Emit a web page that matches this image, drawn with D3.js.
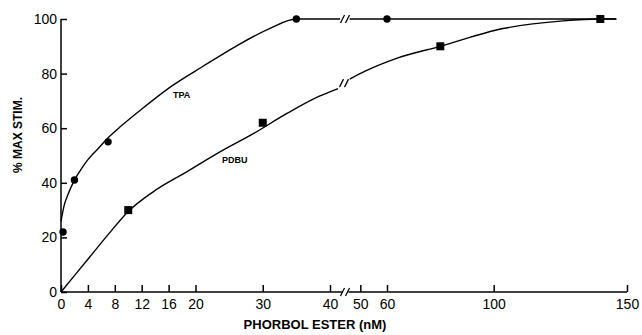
<!DOCTYPE html>
<html>
<head>
<meta charset="utf-8">
<script src="https://cdn.jsdelivr.net/npm/d3@7"></script>
<style>
  body { margin: 0; background: #fff; }
  svg { font-family: "Liberation Sans", Arial, sans-serif; }
  svg text { fill: #000; }
  .axis text { font-size: 14px; }
  .axis line, .axis path { stroke: #000; stroke-width: 1.5; }
</style>
</head>
<body>
<svg class="chart" width="642" height="335"></svg>
<script>
// measured points
var tpaX = [0.3, 2, 7, 35, 60];
var tpaY = [22, 41, 55, 100, 100];
var pdbuX = [10, 30, 80, 140];
var pdbuY = [30, 62, 90, 100];

// fitted curves (left part 0-42 nM, right part after the break)
var tpaCurveLeftX = [0, 0.5, 1, 2, 3, 4, 5.5, 7, 8.8, 12, 16.5, 21, 26, 31, 35, 41.5];
var tpaCurveLeftY = [26, 32, 35.5, 41, 45, 48.5, 52.5, 56.5, 60.5, 67, 75.5, 82.5, 90, 96.5, 100, 100];
var tpaCurveRightX = [46, 146];
var tpaCurveRightY = [100, 100];
var pdbuCurveLeftX = [0, 4.3, 7, 10, 13.7, 18.7, 23.7, 28.6, 33.6, 38.5, 41.2];
var pdbuCurveLeftY = [0, 12.9, 21, 29.5, 36.7, 44, 51.4, 58, 65.4, 71.8, 74.5];
var pdbuCurveRightX = [46, 52, 63.6, 80, 103.5, 126, 140, 146];
var pdbuCurveRightY = [78, 81, 85.6, 90, 96.5, 99.3, 100, 100];

var xTicksLeft = [0, 4, 8, 12, 16, 20, 30, 40];
var xTicksRight = [50, 60, 100, 150];
var yTicks = [0, 20, 40, 60, 80, 100];

var svg = d3.select("svg.chart");

var y = d3.scaleLinear().domain([0, 100]).range([292, 19]);
var x1 = d3.scaleLinear().domain([0, 40]).range([61, 330]);
var x2 = d3.scaleLinear().domain([60, 150]).range([387, 627]);
function xs(v) { return v < 44 ? x1(v) : x2(v); }

var zip = function(xa, ya) { return xa.map(function(d, i) { return [d, ya[i]]; }); };

// y axis
var yAxis = svg.append("g")
    .attr("class", "axis")
    .attr("transform", "translate(61,0)")
    .call(d3.axisLeft(y).tickValues(yTicks).tickSizeInner(-6).tickSizeOuter(0).tickPadding(4));
yAxis.select(".domain").remove();
svg.append("line")
    .attr("x1", 61).attr("x2", 61)
    .attr("y1", y(0)).attr("y2", y(100))
    .attr("stroke", "#000").attr("stroke-width", 1.5);

// x axis, two pieces
var xa1 = svg.append("g")
    .attr("class", "axis")
    .attr("transform", "translate(0," + y(0) + ")")
    .call(d3.axisBottom(x1).tickValues(xTicksLeft).tickSizeInner(-7).tickSizeOuter(0).tickPadding(7));
xa1.select(".domain").remove();
var xa2 = svg.append("g")
    .attr("class", "axis")
    .attr("transform", "translate(0," + y(0) + ")")
    .call(d3.axisBottom(x2).tickValues(xTicksRight).tickSizeInner(-7).tickSizeOuter(0).tickPadding(7));
xa2.select(".domain").remove();

svg.append("line")
    .attr("x1", x1(0)).attr("x2", x1(41.8))
    .attr("y1", y(0)).attr("y2", y(0))
    .attr("stroke", "#000").attr("stroke-width", 1.5);
svg.append("line")
    .attr("x1", x2(45.5)).attr("x2", x2(150))
    .attr("y1", y(0)).attr("y2", y(0))
    .attr("stroke", "#000").attr("stroke-width", 1.5);

function slashes(cx, cy) {
  [-2.5, 2.5].forEach(function(dx) {
    svg.append("line")
        .attr("x1", cx + dx - 2).attr("y1", cy + 4)
        .attr("x2", cx + dx + 2).attr("y2", cy - 4)
        .attr("stroke", "#000").attr("stroke-width", 1.3);
  });
}
slashes(345, y(0));
slashes(345, y(100));
slashes(344, y(76.5));

// curves
var line = d3.line()
    .x(function(d) { return xs(d[0]); })
    .y(function(d) { return y(d[1]); })
    .curve(d3.curveMonotoneX);

[zip(tpaCurveLeftX, tpaCurveLeftY), zip(tpaCurveRightX, tpaCurveRightY),
 zip(pdbuCurveLeftX, pdbuCurveLeftY), zip(pdbuCurveRightX, pdbuCurveRightY)].forEach(function(c) {
  svg.append("path")
      .datum(c)
      .attr("fill", "none")
      .attr("stroke", "#000")
      .attr("stroke-width", 1.4)
      .attr("d", line);
});

// markers
svg.append("g").selectAll("circle")
    .data(zip(tpaX, tpaY))
    .enter().append("circle")
      .attr("cx", function(d) { return xs(d[0]); })
      .attr("cy", function(d) { return y(d[1]); })
      .attr("r", 3.7)
      .attr("fill", "#000");

svg.append("g").selectAll("rect")
    .data(zip(pdbuX, pdbuY))
    .enter().append("rect")
      .attr("x", function(d) { return xs(d[0]) - 4; })
      .attr("y", function(d) { return y(d[1]) - 4; })
      .attr("width", 8)
      .attr("height", 8)
      .attr("fill", "#000");

// curve labels
svg.append("text")
    .attr("x", 173).attr("y", 98)
    .attr("font-size", 9).attr("font-weight", "bold")
    .text("TPA");
svg.append("text")
    .attr("x", 222).attr("y", 163)
    .attr("font-size", 9).attr("font-weight", "bold")
    .text("PDBU");

// axis titles
svg.append("text")
    .attr("x", 315).attr("y", 329)
    .attr("text-anchor", "middle")
    .attr("font-size", 13).attr("font-weight", "bold")
    .text("PHORBOL ESTER (nM)");
svg.append("text")
    .attr("transform", "translate(22,135) rotate(-90)")
    .attr("text-anchor", "middle")
    .attr("font-size", 12).attr("font-weight", "bold")
    .text("% MAX STIM.");
</script>
</body>
</html>
